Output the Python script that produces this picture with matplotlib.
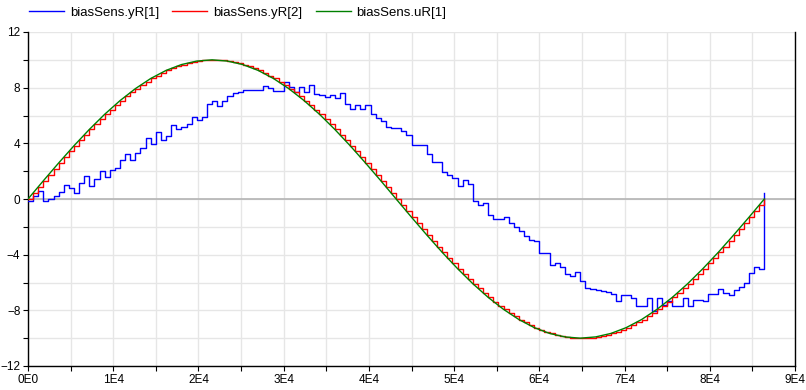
import numpy as np
import matplotlib
matplotlib.use("Agg")
import matplotlib.pyplot as plt
from matplotlib.ticker import FixedLocator, FixedFormatter, MultipleLocator, NullFormatter

plt.rcParams['font.family'] = ['Liberation Sans', 'DejaVu Sans']

# ---------------- data ----------------
series_names = ["biasSens.yR[1]", "biasSens.yR[2]", "biasSens.uR[1]"]
series_colors = ["#0000ff", "#ff0000", "#008000"]

sample_period = 600          # s, sampled outputs (yR)
n_samples = 145
t_samples = np.arange(n_samples) * sample_period

yR1 = [
    -0.17, 0.19, 0.55, -0.17, 0.0, 0.24, 0.48, 1.0, 0.79, 0.45,
    1.18, 1.68, 0.92, 1.44, 2.02, 1.58, 2.1, 2.2, 2.83, 3.2,
    2.83, 3.3, 3.67, 4.35, 3.96, 4.82, 4.27, 4.56, 5.35, 5.0,
    5.15, 5.42, 5.87, 5.71, 5.92, 6.83, 7.02, 6.71, 7.07, 7.43,
    7.62, 7.7, 7.85, 7.86, 7.86, 7.86, 8.1, 8.0, 7.74, 7.74,
    8.41, 8.03, 7.7, 8.03, 7.7, 8.22, 7.55, 7.45, 7.31, 7.45,
    7.26, 7.6, 6.83, 6.5, 6.78, 6.5, 6.74, 6.11, 5.83, 5.59,
    5.2, 5.1, 5.1, 4.91, 4.63, 3.86, 3.86, 3.86, 3.24, 2.66,
    2.66, 1.94, 1.7, 1.51, 0.91, 1.39, 1.1, -0.17, -0.46, -0.29,
    -1.13, -1.42, -1.42, -1.32, -1.7, -2.0, -2.3, -2.69, -2.93, -3.05,
    -3.88, -3.88, -4.77, -4.6, -4.92, -5.4, -5.5, -5.25, -5.88, -6.36,
    -6.45, -6.53, -6.6, -6.65, -6.84, -7.32, -6.89, -6.89, -7.12, -7.72,
    -7.72, -7.12, -8.08, -7.12, -7.6, -7.3, -7.67, -7.67, -7.12, -7.67,
    -7.24, -7.24, -7.36, -6.81, -6.81, -6.47, -6.76, -6.88, -6.52, -6.33,
    -6.04, -5.3, -4.89, -5.04, 0.43,
]

yR2 = [
    0.0, 0.44, 0.87, 1.31, 1.74, 2.16, 2.59, 3.01, 3.42, 3.83,
    4.23, 4.62, 5.0, 5.37, 5.74, 6.09, 6.43, 6.76, 7.07, 7.37,
    7.66, 7.93, 8.19, 8.43, 8.66, 8.87, 9.06, 9.24, 9.4, 9.54,
    9.66, 9.76, 9.85, 9.91, 9.96, 9.99, 10.0, 9.99, 9.96, 9.91,
    9.85, 9.76, 9.66, 9.54, 9.4, 9.24, 9.06, 8.87, 8.66, 8.43,
    8.19, 7.93, 7.66, 7.37, 7.07, 6.76, 6.43, 6.09, 5.74, 5.37,
    5.0, 4.62, 4.23, 3.83, 3.42, 3.01, 2.59, 2.16, 1.74, 1.31,
    0.87, 0.44, 0.0, -0.44, -0.87, -1.31, -1.74, -2.16, -2.59, -3.01,
    -3.42, -3.83, -4.23, -4.62, -5.0, -5.37, -5.74, -6.09, -6.43, -6.76,
    -7.07, -7.37, -7.66, -7.93, -8.19, -8.43, -8.66, -8.87, -9.06, -9.24,
    -9.4, -9.54, -9.66, -9.76, -9.85, -9.91, -9.96, -9.99, -10.0, -9.99,
    -9.96, -9.91, -9.85, -9.76, -9.66, -9.54, -9.4, -9.24, -9.06, -8.87,
    -8.66, -8.43, -8.19, -7.93, -7.66, -7.37, -7.07, -6.76, -6.43, -6.09,
    -5.74, -5.37, -5.0, -4.62, -4.23, -3.83, -3.42, -3.01, -2.59, -2.16,
    -1.74, -1.31, -0.87, -0.44, 0.0,
]

u_period = 1800               # s, continuous input read every 1800 s
t_u = np.arange(49) * u_period
uR1 = [
    0.0, 1.31, 2.59, 3.83, 5.0, 6.09, 7.07, 7.93, 8.66, 9.24,
    9.66, 9.91, 10.0, 9.91, 9.66, 9.24, 8.66, 7.93, 7.07, 6.09,
    5.0, 3.83, 2.59, 1.31, 0.0, -1.31, -2.59, -3.83, -5.0, -6.09,
    -7.07, -7.93, -8.66, -9.24, -9.66, -9.91, -10.0, -9.91, -9.66, -9.24,
    -8.66, -7.93, -7.07, -6.09, -5.0, -3.83, -2.59, -1.31, 0.0,
]

x_tick_values = [0, 10000, 20000, 30000, 40000, 50000, 60000, 70000, 80000, 90000]
x_tick_labels = ["0E0", "1E4", "2E4", "3E4", "4E4", "5E4", "6E4", "7E4", "8E4", "9E4"]
y_tick_values = [-12, -8, -4, 0, 4, 8, 12]

# ---------------- figure ----------------
W, H = 806, 390
fig = plt.figure(figsize=(W / 100, H / 100), dpi=100)
ax = fig.add_axes([28 / W, 24 / H, 767 / W, 334 / H])

ax.set_xlim(0, 90000)
ax.set_ylim(-12, 12)

ax.xaxis.set_major_locator(FixedLocator(x_tick_values))
ax.xaxis.set_major_formatter(FixedFormatter(x_tick_labels))
ax.xaxis.set_minor_locator(MultipleLocator(5000))
ax.yaxis.set_major_locator(FixedLocator(y_tick_values))
ax.yaxis.set_minor_locator(MultipleLocator(2))
ax.yaxis.set_minor_formatter(NullFormatter())

ax.grid(True, which='both', color='#e6e6e6', linewidth=1.0, zorder=0)
ax.set_axisbelow(True)
ax.axhline(0, color='#b4b4b4', linewidth=1.2, zorder=1)

ax.tick_params(which='both', direction='out', length=3.5, width=0.8,
               colors='black', labelsize=8.5, pad=2)

for side in ['left', 'bottom', 'right']:
    ax.spines[side].set_color('black')
    ax.spines[side].set_linewidth(1.0)
ax.spines['top'].set_visible(False)

l1, = ax.step(t_samples, yR1, where='post', color=series_colors[0], lw=1.0, zorder=3)
l2, = ax.step(t_samples, yR2, where='post', color=series_colors[1], lw=1.0, zorder=4)
l3, = ax.plot(t_u, uR1, color=series_colors[2], lw=1.0, zorder=5)

fig.legend([l1, l2, l3], series_names, loc='center left',
           bbox_to_anchor=(29 / W, 1 - 13 / H), ncol=3, frameon=False,
           fontsize=9.5, handlelength=2.65, handletextpad=0.45,
           columnspacing=1.0, borderpad=0, borderaxespad=0)

fig.savefig("out.png", dpi=100)
